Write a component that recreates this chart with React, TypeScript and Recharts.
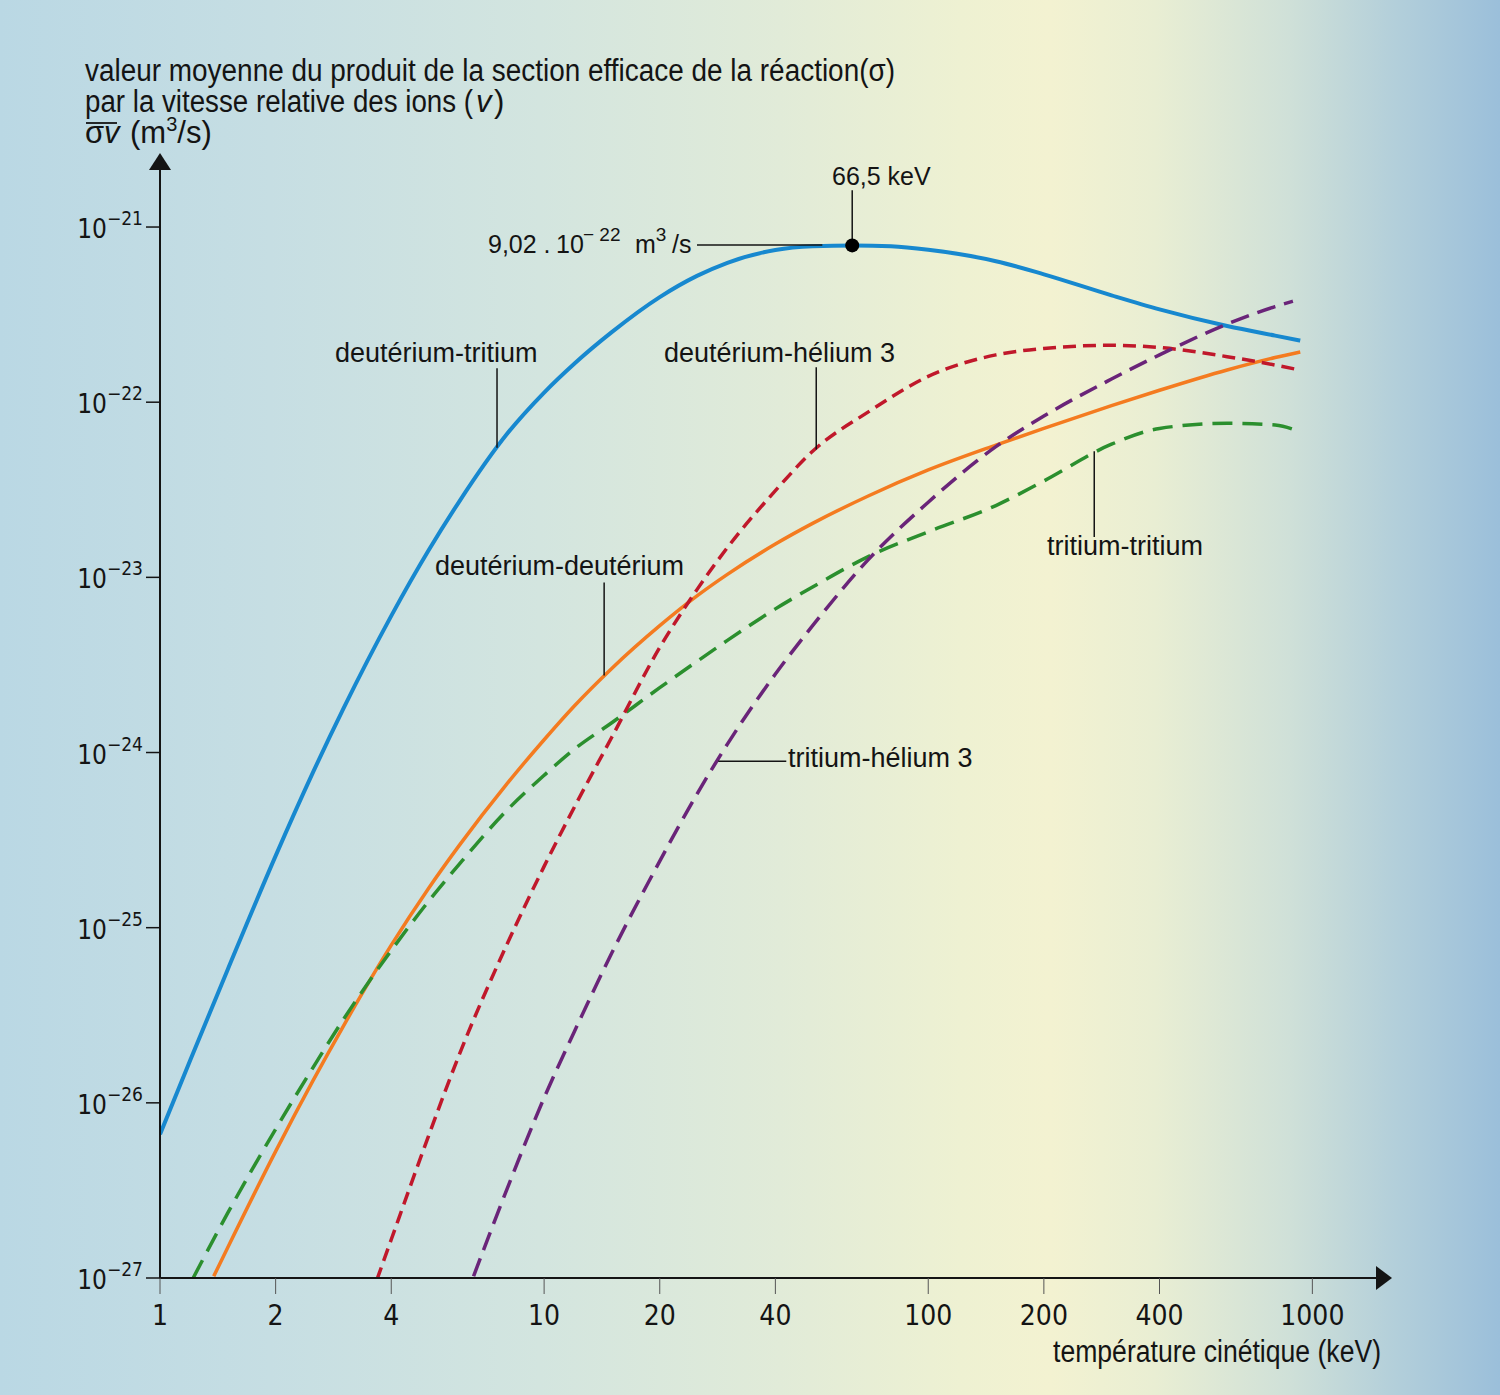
import React from 'react';
import { LineChart, Line, XAxis, YAxis, ReferenceLine, ReferenceDot } from 'recharts';

const W = 1500;
const H = 1395;
// plot area edges on the page
const LEFT = 160;
const RIGHT = 1380;
const TOP = 168;
const BOTTOM = 1278;

const xTicks = [1, 2, 4, 10, 20, 40, 100, 200, 400, 1000];
const yTicks = [-27, -26, -25, -24, -23, -22, -21];

// kinetic temperature (keV) and log10 of <σv> (m3/s)
const dtKeV = [1, 1.2, 1.5, 2, 2.5, 3, 4, 5, 6, 8, 10, 12, 15, 20, 25, 30, 40, 50, 64, 80, 100, 150, 200, 300, 400, 600, 800, 930];
const dtLog = [-26.18, -25.754, -25.24, -24.59, -24.115, -23.751, -23.22, -22.847, -22.57, -22.182, -21.945, -21.779, -21.6, -21.4, -21.279, -21.204, -21.131, -21.11, -21.105, -21.11, -21.13, -21.195, -21.27, -21.39, -21.47, -21.565, -21.62, -21.648];

const ddKeV = [1.38, 1.5, 2, 2.5, 3, 4, 5, 6, 8, 10, 12, 15, 20, 25, 30, 40, 50, 70, 100, 150, 200, 300, 400, 600, 800, 930];
const ddLog = [-26.99, -26.827, -26.277, -25.875, -25.563, -25.1, -24.776, -24.533, -24.179, -23.927, -23.733, -23.52, -23.276, -23.106, -22.983, -22.81, -22.692, -22.534, -22.387, -22.245, -22.15, -22.02, -21.932, -21.816, -21.745, -21.713];

const ttKeV = [1.22, 1.5, 2, 2.5, 3, 4, 5, 6, 8, 10, 12, 15, 20, 25, 30, 40, 50, 70, 100, 150, 200, 300, 400, 600, 800, 930];
const ttLog = [-27.0, -26.63, -26.15, -25.8, -25.525, -25.13, -24.85, -24.64, -24.33, -24.13, -23.98, -23.83, -23.63, -23.48, -23.36, -23.18, -23.055, -22.88, -22.74, -22.59, -22.45, -22.24, -22.15, -22.12, -22.13, -22.17];

const dhKeV = [3.67, 4, 5, 6, 8, 10, 12, 15, 20, 25, 30, 40, 50, 70, 100, 150, 200, 300, 400, 600, 800, 930];
const dhLog = [-27.01, -26.78, -26.19, -25.73, -25.096, -24.65, -24.31, -23.913, -23.4, -23.07, -22.83, -22.505, -22.28, -22.054, -21.853, -21.73, -21.693, -21.675, -21.688, -21.74, -21.788, -21.817];

const thKeV = [6.55, 8, 10, 12, 15, 20, 25, 30, 40, 50, 70, 100, 150, 200, 300, 400, 600, 800, 890];
const thLog = [-26.99, -26.494, -25.971, -25.591, -25.145, -24.62, -24.237, -23.952, -23.552, -23.276, -22.896, -22.571, -22.254, -22.079, -21.868, -21.73, -21.554, -21.454, -21.424];

const toPoints = (t: number[], v: number[]) => t.map((k, i) => ({ t: k, v: v[i] }));

const series = [
  { name: 'deutérium-tritium', data: toPoints(dtKeV, dtLog), color: '#1788cf', width: 4, dash: undefined },
  { name: 'deutérium-deutérium', data: toPoints(ddKeV, ddLog), color: '#f47b20', width: 3.5, dash: undefined },
  { name: 'tritium-tritium', data: toPoints(ttKeV, ttLog), color: '#2b8f2e', width: 3.5, dash: '20 10' },
  { name: 'deutérium-hélium 3', data: toPoints(dhKeV, dhLog), color: '#c0182b', width: 3.5, dash: '13 7' },
  { name: 'tritium-hélium 3', data: toPoints(thKeV, thLog), color: '#6a2479', width: 3.5, dash: '19 9' },
];

// peak of D-T curve and the leader lines from labels to curves (data coords)
const peak = { t: 63.4, v: -21.105 };
const leaders = [
  [{ x: 63.4, y: -20.79 }, { x: 63.4, y: -21.105 }],
  [{ x: 25.0, y: -21.103 }, { x: 53.0, y: -21.103 }],
  [{ x: 7.54, y: -21.806 }, { x: 7.54, y: -22.26 }],
  [{ x: 51.1, y: -21.8 }, { x: 51.1, y: -22.27 }],
  [{ x: 14.33, y: -23.03 }, { x: 14.33, y: -23.56 }],
  [{ x: 270.5, y: -22.28 }, { x: 270.5, y: -22.77 }],
  [{ x: 28.4, y: -24.05 }, { x: 42.7, y: -24.05 }],
];

const NARROW = "'Liberation Sans Narrow', 'DejaVu Sans Condensed', 'Arial Narrow', sans-serif";
const SANS = "'Liberation Sans', Arial, Helvetica, sans-serif";
const INK = '#141414';

const BG =
  'linear-gradient(to right, #bad8e4 0%, #c6dee3 18%, #d3e5df 36%, #e1ebd8 52%, #eef1d2 64%, #f3f2d1 70%, #e9eed3 77%, #cfe0d8 86%, #b3cfda 93%, #9bbfda 100%)';

const XTick = (props: any) => {
  const { x, payload } = props;
  return (
    <text x={x} y={BOTTOM + 47} textAnchor="middle" fontFamily={NARROW} fontSize={28} fill={INK}>
      {payload.value}
    </text>
  );
};

const YTick = (props: any) => {
  const { y, payload } = props;
  return (
    <text x={LEFT - 17} y={y + 11} textAnchor="end" fontFamily={NARROW} fill={INK}>
      <tspan fontSize={26}>10</tspan>
      <tspan fontSize={19} dy={-13}>{'\u2212' + Math.abs(payload.value)}</tspan>
    </text>
  );
};

const labelStyle = { fontFamily: SANS, fontSize: 27, fill: INK } as const;
const titleStyle = { fontFamily: SANS, fontSize: 31, fill: INK } as const;

export default function App() {
  return (
    <div style={{ position: 'absolute', left: 0, top: 0, width: W, height: H, background: BG, overflow: 'hidden' }}>
      <LineChart width={W} height={H} margin={{ top: TOP, right: W - RIGHT, bottom: H - BOTTOM - 60, left: LEFT - 80 }}>
        <XAxis
          type="number"
          dataKey="t"
          scale="log"
          domain={[1, 1500]}
          ticks={xTicks}
          interval={0}
          allowDataOverflow
          tickSize={16}
          height={60}
          axisLine={{ stroke: INK, strokeWidth: 2 }}
          tickLine={{ stroke: '#555', strokeWidth: 1 }}
          tick={(p: any) => <XTick {...p} />}
        />
        <YAxis
          type="number"
          domain={[-27, -20.663]}
          ticks={yTicks}
          interval={0}
          allowDataOverflow
          tickSize={14}
          width={80}
          axisLine={{ stroke: INK, strokeWidth: 2 }}
          tickLine={{ stroke: INK, strokeWidth: 1.5 }}
          tick={(p: any) => <YTick {...p} />}
        />
        {series.map((s) => (
          <Line
            key={s.name}
            name={s.name}
            data={s.data}
            dataKey="v"
            type="monotone"
            stroke={s.color}
            strokeWidth={s.width}
            strokeDasharray={s.dash}
            dot={false}
            activeDot={false}
            isAnimationActive={false}
          />
        ))}
        {leaders.map((seg, i) => (
          <ReferenceLine key={i} segment={seg} stroke={INK} strokeWidth={1.5} />
        ))}
        <ReferenceDot x={peak.t} y={peak.v} r={7} fill="#000" stroke="none" />
      </LineChart>

      <svg width={W} height={H} style={{ position: 'absolute', left: 0, top: 0, pointerEvents: 'none' }}>
        {/* axis arrows */}
        <polygon points={`${RIGHT - 4},${BOTTOM - 12} ${RIGHT + 12},${BOTTOM} ${RIGHT - 4},${BOTTOM + 12}`} fill={INK} />
        <polygon points={`${LEFT - 11},${TOP + 2} ${LEFT},${TOP - 15} ${LEFT + 11},${TOP + 2}`} fill={INK} />

        {/* y axis title */}
        <text x={85} y={81} textLength={810} lengthAdjust="spacingAndGlyphs" {...titleStyle}>
          valeur moyenne du produit de la section efficace de la réaction(σ)
        </text>
        <text x={85} y={112} textLength={388} lengthAdjust="spacingAndGlyphs" {...titleStyle}>
          par la vitesse relative des ions (
        </text>
        <text x={476} y={112} fontStyle="italic" {...titleStyle}>v</text>
        <text x={494} y={112} {...titleStyle}>)</text>
        <text x={85} y={143} {...titleStyle}>σ</text>
        <text x={104} y={143} fontStyle="italic" {...titleStyle}>v</text>
        <line x1={86} x2={117} y1={123} y2={123} stroke={INK} strokeWidth={1.8} />
        <text x={130} y={143} {...titleStyle}>
          (m<tspan fontSize={20} dy={-12}>3</tspan>
          <tspan dy={12}>/s)</tspan>
        </text>

        {/* x axis title */}
        <text x={1053} y={1362} textLength={328} lengthAdjust="spacingAndGlyphs" {...titleStyle}>
          température cinétique (keV)
        </text>

        {/* peak annotation */}
        <text x={832} y={185} fontFamily={SANS} fontSize={25} fill={INK}>66,5 keV</text>
        <text x={488} y={253} fontFamily={SANS} fontSize={25} fill={INK}>
          <tspan>9,02 .</tspan>
          <tspan x={556}>10</tspan>
          <tspan x={583} dy={-12} fontSize={19}>{'\u2212 22'}</tspan>
          <tspan x={635} dy={12}>m</tspan>
          <tspan fontSize={19} dy={-12}>3</tspan>
          <tspan x={672} dy={12}>/s</tspan>
        </text>

        {/* curve labels */}
        <text x={335} y={362} {...labelStyle}>deutérium-tritium</text>
        <text x={664} y={362} {...labelStyle}>deutérium-hélium 3</text>
        <text x={684} y={575} textAnchor="end" {...labelStyle}>deutérium-deutérium</text>
        <text x={1047} y={555} {...labelStyle}>tritium-tritium</text>
        <text x={788} y={767} {...labelStyle}>tritium-hélium 3</text>
      </svg>
    </div>
  );
}
